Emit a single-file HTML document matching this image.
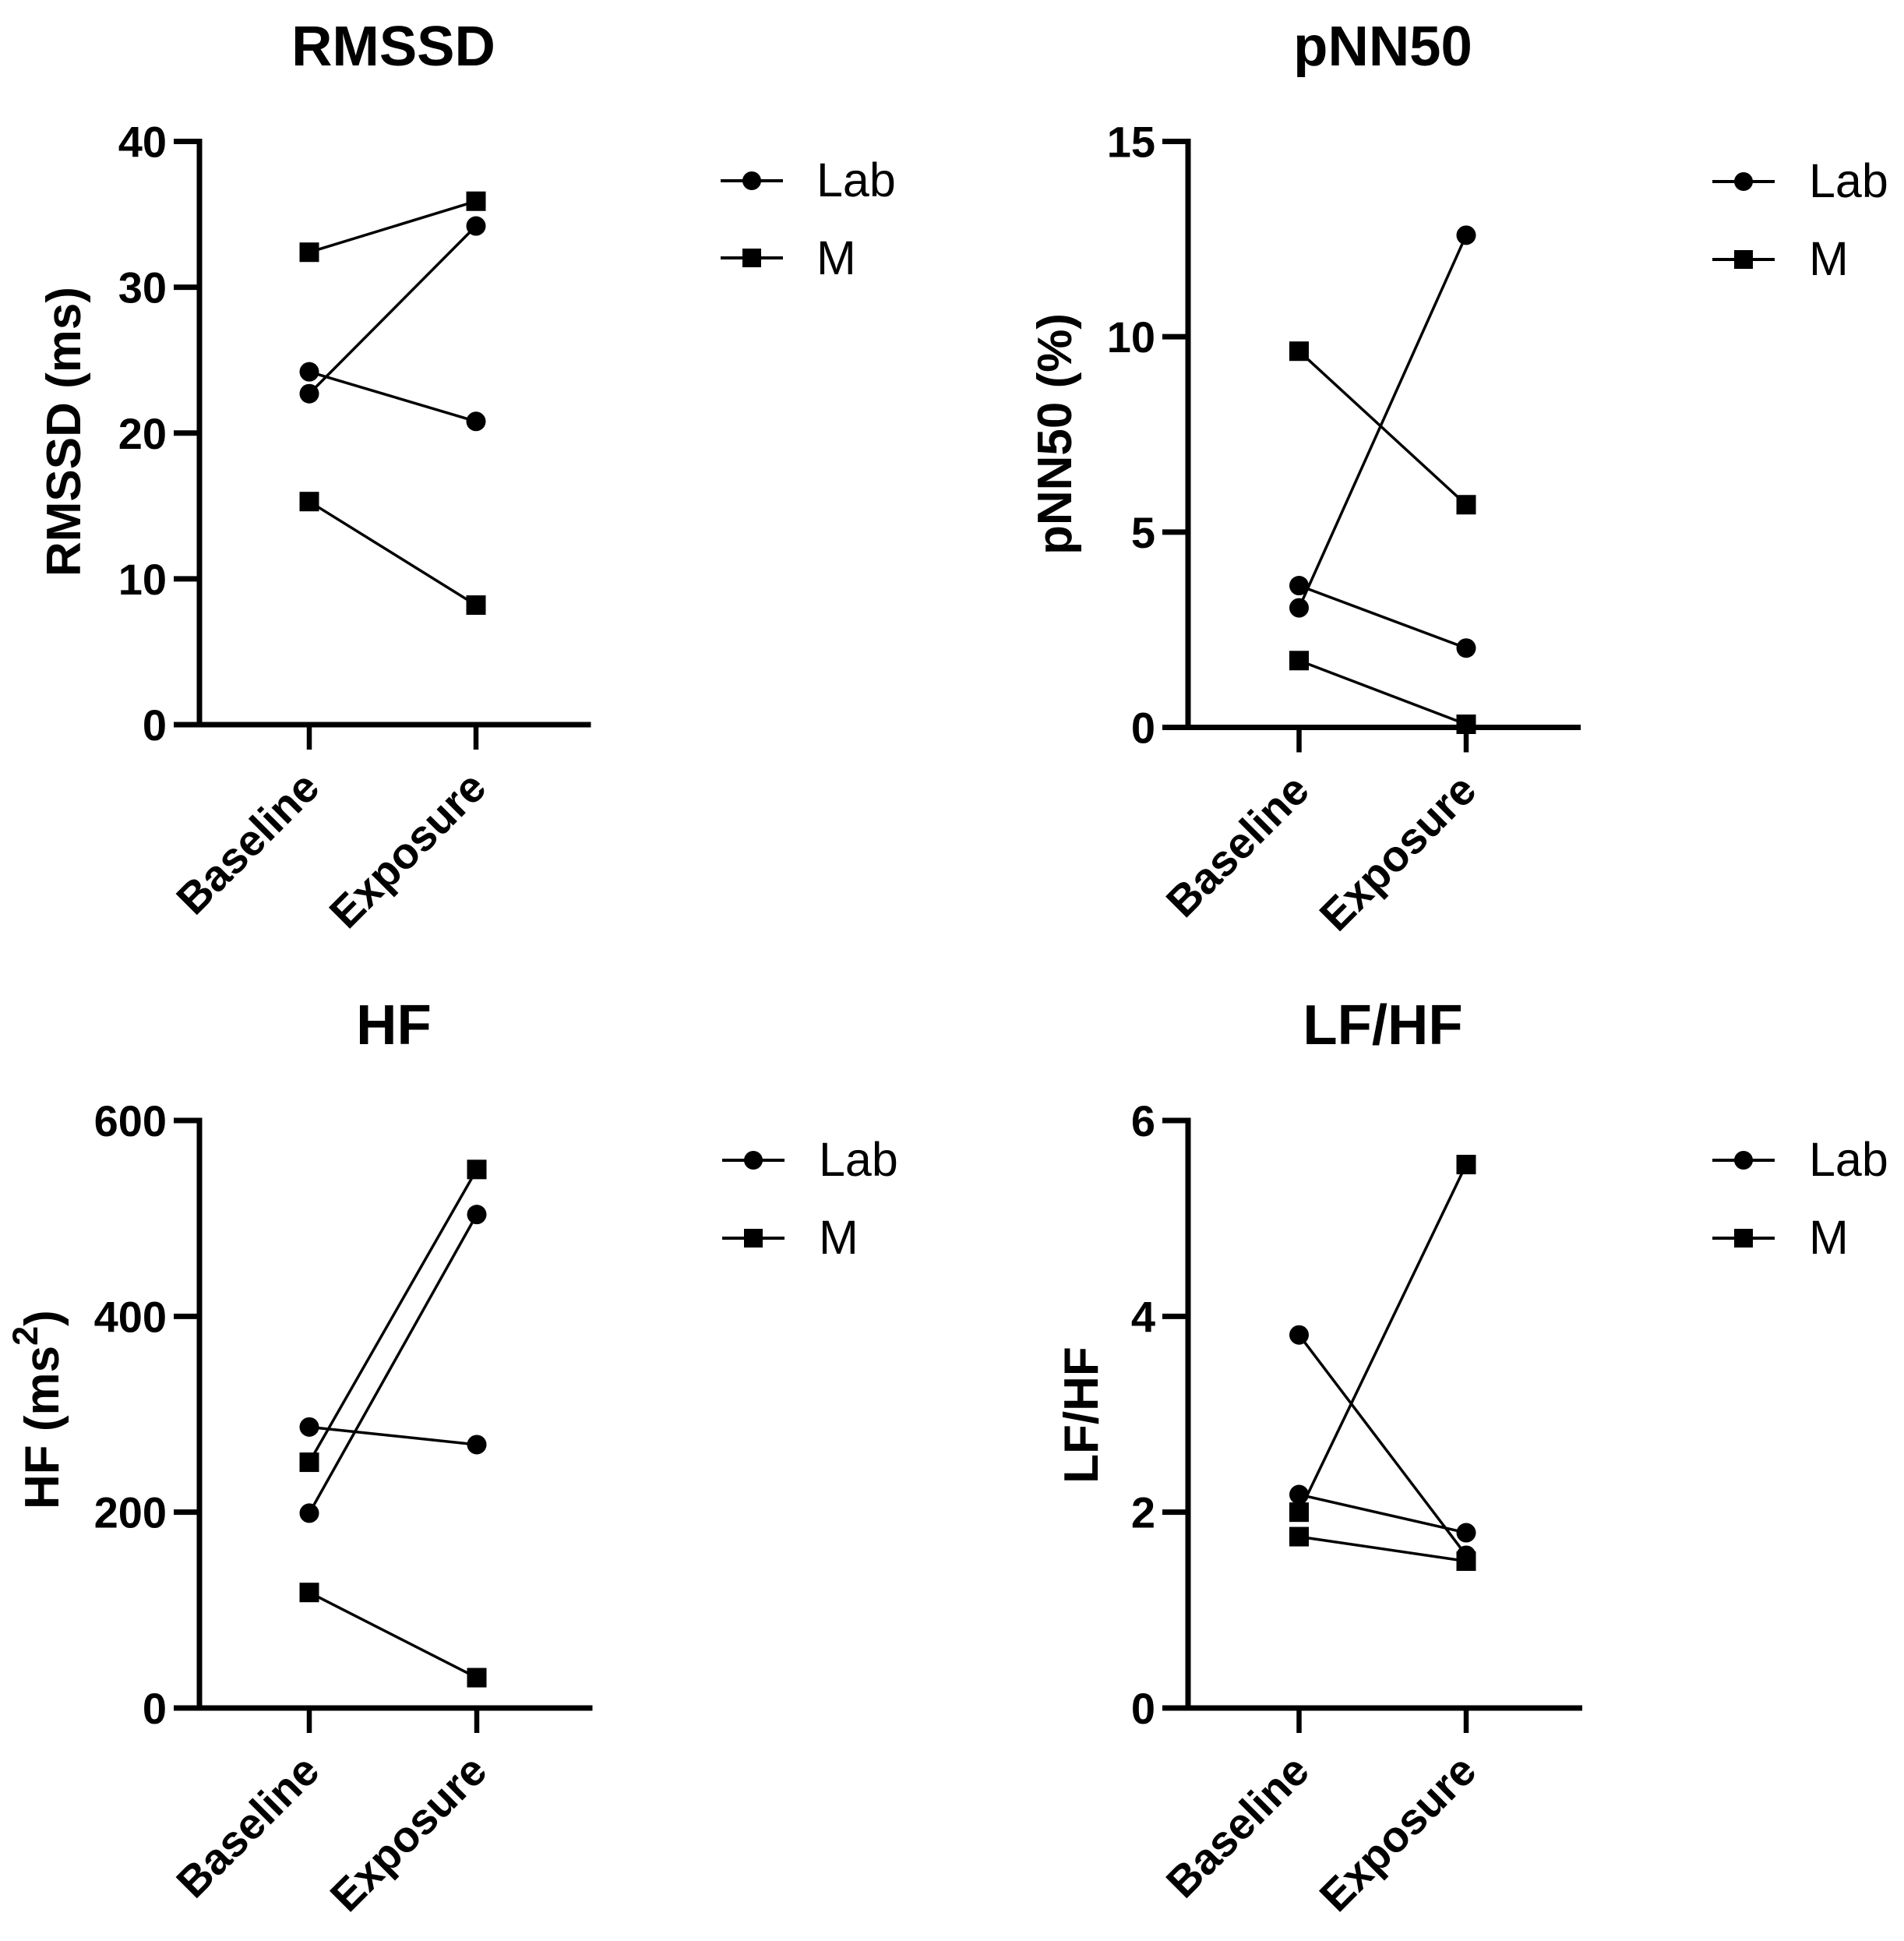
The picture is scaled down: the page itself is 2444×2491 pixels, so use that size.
<!DOCTYPE html>
<html lang="en">
<head>
<meta charset="utf-8">
<title>HRV measures: RMSSD, pNN50, HF, LF/HF</title>
<style>
  html, body { margin: 0; padding: 0; background: #ffffff; }
  svg { display: block; }
  text { font-family: "Liberation Sans", Arial, sans-serif; fill: #000; }
  .title { font-size: 72.5px; font-weight: 700; text-anchor: middle; }
  .ytitle { font-size: 62px; font-weight: 700; }
  .tick { font-size: 56px; font-weight: 700; text-anchor: end; }
  .cat { font-size: 56px; font-weight: 700; text-anchor: end; }
  .leg { font-size: 61px; }
</style>
</head>
<body>
<svg id="figure" xmlns="http://www.w3.org/2000/svg" width="2444" height="2491" viewBox="0 0 2444 2491">
  <rect x="0" y="0" width="2444" height="2491" fill="#fff"/>

  <text class="title" x="505" y="84">RMSSD</text>
  <text class="title" x="1775" y="84">pNN50</text>
  <text class="title" x="505.5" y="1340">HF</text>
  <text class="title" x="1775" y="1340">LF/HF</text>

  <text class="ytitle" text-anchor="middle" transform="translate(103,554) rotate(-90)">RMSSD (ms)</text>
  <text class="ytitle" text-anchor="middle" transform="translate(1375,557) rotate(-90)">pNN50 (%)</text>
  <text class="ytitle" transform="translate(75,1937) rotate(-90)">HF (ms<tspan font-size="45" dy="-27">2</tspan><tspan dy="27">)</tspan></text>
  <text class="ytitle" text-anchor="middle" transform="translate(1409,1816) rotate(-90)">LF/HF</text>

  <g>
    <line x1="925" y1="232" x2="1005" y2="232" stroke="#000" stroke-width="4"/>
    <circle cx="965" cy="232" r="12" fill="#000"/>
    <text class="leg" x="1048" y="252">Lab</text>
    <line x1="925" y1="331" x2="1005" y2="331" stroke="#000" stroke-width="4"/>
    <rect x="953" y="319" width="24" height="24" fill="#000"/>
    <text class="leg" x="1048" y="352">M</text>
  </g>
  <g>
    <line x1="2198" y1="233" x2="2278" y2="233" stroke="#000" stroke-width="4"/>
    <circle cx="2238" cy="233" r="12" fill="#000"/>
    <text class="leg" x="2322" y="253">Lab</text>
    <line x1="2198" y1="333" x2="2278" y2="333" stroke="#000" stroke-width="4"/>
    <rect x="2226" y="321" width="24" height="24" fill="#000"/>
    <text class="leg" x="2322" y="353">M</text>
  </g>
  <g>
    <line x1="927" y1="1489" x2="1007" y2="1489" stroke="#000" stroke-width="4"/>
    <circle cx="967" cy="1489" r="12" fill="#000"/>
    <text class="leg" x="1051" y="1509">Lab</text>
    <line x1="927" y1="1589" x2="1007" y2="1589" stroke="#000" stroke-width="4"/>
    <rect x="955" y="1577" width="24" height="24" fill="#000"/>
    <text class="leg" x="1051" y="1609">M</text>
  </g>
  <g>
    <line x1="2198" y1="1489" x2="2278" y2="1489" stroke="#000" stroke-width="4"/>
    <circle cx="2238" cy="1489" r="12" fill="#000"/>
    <text class="leg" x="2322" y="1509">Lab</text>
    <line x1="2198" y1="1589" x2="2278" y2="1589" stroke="#000" stroke-width="4"/>
    <rect x="2226" y="1577" width="24" height="24" fill="#000"/>
    <text class="leg" x="2322" y="1609">M</text>
  </g>
</svg>

<script>
// Shared category labels
const categories = ["Baseline", "Exposure"];

// RMSSD (ms)
const rmssdTicks = [0, 10, 20, 30, 40];
const rmssdLab1 = [24.2, 20.8];
const rmssdLab2 = [22.7, 34.2];
const rmssdM1 = [32.4, 35.9];
const rmssdM2 = [15.3, 8.2];

// pNN50 (%)
const pnn50Ticks = [0, 5, 10, 15];
const pnn50Lab1 = [3.63, 2.03];
const pnn50Lab2 = [3.06, 12.6];
const pnn50M1 = [9.63, 5.7];
const pnn50M2 = [1.71, 0.08];

// HF (ms2)
const hfTicks = [0, 200, 400, 600];
const hfLab1 = [287, 269];
const hfLab2 = [199, 504];
const hfM1 = [251, 550];
const hfM2 = [118, 31];

// LF/HF
const lfhfTicks = [0, 2, 4, 6];
const lfhfLab1 = [3.81, 1.56];
const lfhfLab2 = [2.18, 1.79];
const lfhfM1 = [2.0, 5.55];
const lfhfM2 = [1.75, 1.5];

const NS = "http://www.w3.org/2000/svg";
const figure = document.getElementById("figure");

function make(parent, tag, attrs) {
  const node = document.createElementNS(NS, tag);
  for (const key in attrs) node.setAttribute(key, attrs[key]);
  parent.appendChild(node);
  return node;
}

function drawPanel(cfg) {
  const yScale = v => cfg.y0 - (v / cfg.ticks[cfg.ticks.length - 1]) * (cfg.y0 - cfg.yTop);
  const xScale = i => cfg.xBase + i * (cfg.xExp - cfg.xBase);

  const panel = make(figure, "g", {});
  
  

  // axes
  const yAxis = make(panel, "line", { x1: cfg.axisX, x2: cfg.axisX, y1: cfg.yTop - 3.5, y2: cfg.y0 + 3.5, stroke: "#000", "stroke-width": 7 });
  
  
  const xAxis = make(panel, "line", { x1: cfg.axisX - 33, x2: cfg.xEnd, y1: cfg.y0, y2: cfg.y0, stroke: "#000", "stroke-width": 7 });
  
  

  // y ticks
  cfg.ticks.forEach(t => {
    const y = yScale(t);
    if (t !== 0) {
      const tick = make(panel, "line", { x1: cfg.axisX - 33, x2: cfg.axisX, y1: y, y2: y, stroke: "#000", "stroke-width": 7 });
      
      
    }
    const label = make(panel, "text", { class: "tick", x: cfg.axisX - 42, y: y + 20 });
    label.textContent = String(t);
    
    
  });

  // x ticks and rotated labels
  categories.forEach((c, i) => {
    const x = xScale(i);
    const tick = make(panel, "line", { x1: x, x2: x, y1: cfg.y0, y2: cfg.y0 + 32, stroke: "#000", "stroke-width": 6.5 });
    
    
    const lx = x + 16, ly = cfg.y0 + 84;
    const label = make(panel, "text", { class: "cat", transform: "translate(" + lx + "," + ly + ") rotate(-45)" });
    label.textContent = c;
    
    
  });

  // paired series
  cfg.series.forEach(s => {
    const group = make(panel, "g", {});
    
    
    const link = make(group, "line", {
      x1: xScale(0), y1: yScale(s.values[0]),
      x2: xScale(1), y2: yScale(s.values[1]),
      stroke: "#000", "stroke-width": 3.5
    });
    
    
    s.values.forEach((v, i) => {
      let mark;
      if (s.marker === "circle") {
        mark = make(group, "circle", { cx: xScale(i), cy: yScale(v), r: 12.5, fill: "#000" });
      } else {
        mark = make(group, "rect", { x: xScale(i) - 12.5, y: yScale(v) - 12.5, width: 25, height: 25, fill: "#000" });
      }
      
      
    });
  });
}

drawPanel({
  name: "rmssd", ticks: rmssdTicks,
  axisX: 256, xBase: 397, xExp: 611, xEnd: 758.5, yTop: 181.5, y0: 930,
  series: [
    { name: "lab-subject-1", marker: "circle", values: rmssdLab1 },
    { name: "lab-subject-2", marker: "circle", values: rmssdLab2 },
    { name: "m-subject-1", marker: "square", values: rmssdM1 },
    { name: "m-subject-2", marker: "square", values: rmssdM2 }
  ]
});
drawPanel({
  name: "pnn50", ticks: pnn50Ticks,
  axisX: 1525, xBase: 1667.5, xExp: 1882, xEnd: 2029, yTop: 181.5, y0: 933.5,
  series: [
    { name: "lab-subject-1", marker: "circle", values: pnn50Lab1 },
    { name: "lab-subject-2", marker: "circle", values: pnn50Lab2 },
    { name: "m-subject-1", marker: "square", values: pnn50M1 },
    { name: "m-subject-2", marker: "square", values: pnn50M2 }
  ]
});
drawPanel({
  name: "hf", ticks: hfTicks,
  axisX: 256, xBase: 397, xExp: 612, xEnd: 760.5, yTop: 1438, y0: 2192,
  series: [
    { name: "lab-subject-1", marker: "circle", values: hfLab1 },
    { name: "lab-subject-2", marker: "circle", values: hfLab2 },
    { name: "m-subject-1", marker: "square", values: hfM1 },
    { name: "m-subject-2", marker: "square", values: hfM2 }
  ]
});
drawPanel({
  name: "lfhf", ticks: lfhfTicks,
  axisX: 1525, xBase: 1667.5, xExp: 1882, xEnd: 2031, yTop: 1438, y0: 2192,
  series: [
    { name: "lab-subject-1", marker: "circle", values: lfhfLab1 },
    { name: "lab-subject-2", marker: "circle", values: lfhfLab2 },
    { name: "m-subject-1", marker: "square", values: lfhfM1 },
    { name: "m-subject-2", marker: "square", values: lfhfM2 }
  ]
});
</script>
</body>
</html>
